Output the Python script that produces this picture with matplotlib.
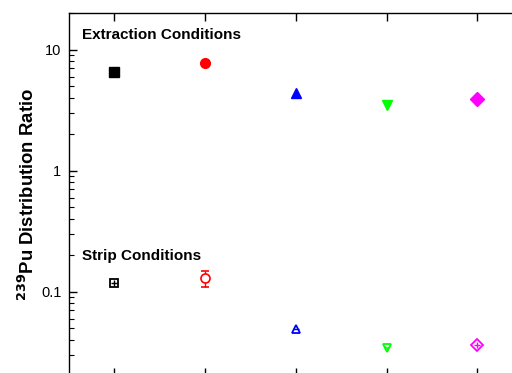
import matplotlib
matplotlib.use("Agg")
from matplotlib import pyplot

# sample positions and distribution ratios
positions = [1, 2, 3, 4, 5]
extraction = [6.6, 7.8, 4.4, 3.5, 3.9]
strip = [0.117, 0.129, 0.049, 0.034, 0.036]
strip_err = [0.0, 0.02, 0.0, 0.0, 0.0]

colors = ['#000000', '#FF0000', '#0000FF', '#00FF00', '#FF00FF']
markers = ['s', 'o', '^', 'v', 'D']
inner = ['+', None, '_', '1', '+']

pyplot.rcParams['font.family'] = ['Liberation Sans', 'DejaVu Sans']

fig = pyplot.figure(figsize=(5.12, 3.73), dpi=100)
ax = fig.add_axes([0.1348, -0.0088, 0.8861, 0.9731])

for i, x in enumerate(positions):
    ax.plot(x, extraction[i], marker=markers[i], color=colors[i], ms=7, ls='none')
    if strip_err[i] > 0:
        ax.errorbar(x, strip[i], yerr=strip_err[i], fmt=markers[i], mfc='white', mec=colors[i],
                    ecolor=colors[i], ms=6.5, capsize=3, elinewidth=1, mew=1.2)
    else:
        ax.plot(x, strip[i], marker=markers[i], mfc='white', mec=colors[i], ms=6, mew=1.3, ls='none')
        ax.plot(x, strip[i], marker=inner[i], color=colors[i], ms=5, mew=1, ls='none')

ax.set_yscale('log')
ax.set_ylim(0.02, 20)
ax.set_xlim(0.5, 5.5)
ax.set_xticks(positions)
ax.set_xticklabels([])
ax.set_yticks([0.1, 1, 10])
ax.set_yticklabels(['0.1', '1', '10'])
ax.tick_params(which='both', direction='in', top=True, right=True, labelsize=10.5, pad=5.5)
ax.tick_params(which='major', length=6, width=1)
ax.tick_params(which='minor', length=3.5, width=0.8)
for s in ax.spines.values():
    s.set_linewidth(1)

ax.text(0.0287, 0.940, 'Extraction Conditions', transform=ax.transAxes, fontsize=11, weight='bold',
        va='center', ha='left')
ax.text(0.0287, 0.332, 'Strip Conditions', transform=ax.transAxes, fontsize=11, weight='bold',
        va='center', ha='left')

fig.text(0.055, 0.479, r'$\mathbf{^{239}}$Pu Distribution Ratio', rotation=90, fontsize=13.3,
         weight='bold', va='center', ha='center')

pyplot.savefig('out.png', dpi=100)
pyplot.close()
